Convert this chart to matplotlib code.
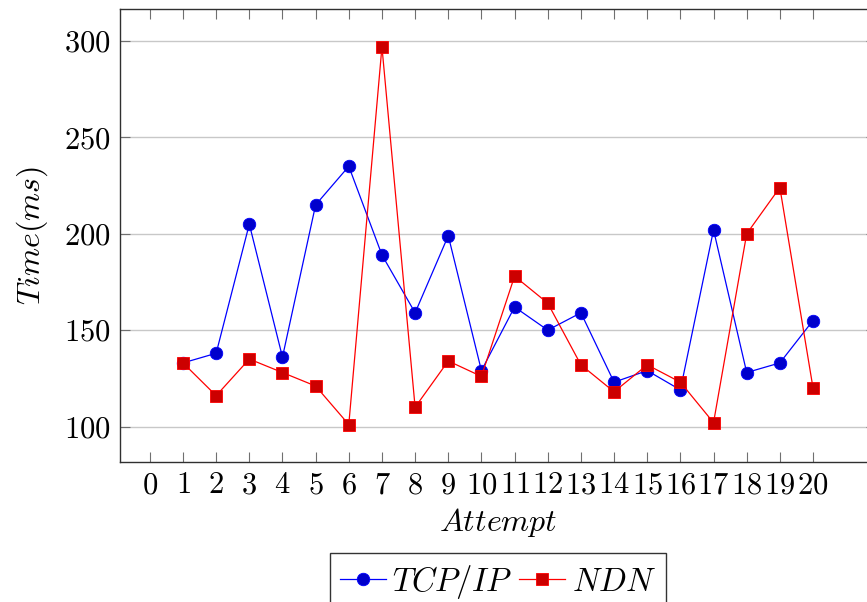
import matplotlib
matplotlib.use('Agg')
import matplotlib.pyplot as plt

# donnees
attempts = list(range(1, 21))
tcp_ip = [133, 138, 205, 136, 215, 235, 189, 159, 199, 129,
          162, 150, 159, 123, 129, 119, 202, 128, 133, 155]
ndn = [133, 116, 135, 128, 121, 101, 297, 110, 134, 126,
       178, 164, 132, 118, 132, 123, 102, 200, 224, 120]
xticks = list(range(0, 21))
yticks = [100, 150, 200, 250, 300]

plt.rcParams['font.family'] = 'cmr10'
plt.rcParams['mathtext.fontset'] = 'cm'
plt.rcParams['axes.formatter.use_mathtext'] = True
fs = 22

fig = plt.figure(figsize=(8.67, 6.02), dpi=100)
ax = fig.add_axes([0.1384, 0.2326, 0.872, 0.7524])

ax.plot(attempts, tcp_ip, color='#0000ff', lw=0.9, marker='o', ms=9,
        mfc='#0000cc', mec='#0000ff', mew=0.6, label=r'$TCP/IP$', zorder=3)
ax.plot(attempts, ndn, color='#ff0000', lw=0.9, marker='s', ms=8.3,
        mfc='#cc0000', mec='#ff0000', mew=0.6, label=r'$NDN$', zorder=3)

ax.set_xlim(-0.9, 21.9)
ax.set_ylim(81.6, 316.6)
ax.set_xticks(xticks)
ax.set_yticks(yticks)
ax.grid(axis='y', color='#c8c8c8', lw=1.0)
ax.set_axisbelow(True)

ax.tick_params(direction='in', length=7, width=0.8, color='#707070',
               top=True, right=True, labelsize=fs, pad=7)
for s in ax.spines.values():
    s.set_color('#303030')
    s.set_linewidth(1.0)

ax.set_xlabel(r'$Attempt$', fontsize=fs + 1, labelpad=5)
ax.set_ylabel(r'$Time(ms)$', fontsize=fs + 1, labelpad=10)

leg = ax.legend(loc='upper center', bbox_to_anchor=(0.5744, 0.0814),
                bbox_transform=fig.transFigure, ncol=2, fontsize=fs + 1.5,
                frameon=True, fancybox=False, edgecolor='black',
                handlelength=1.4, handletextpad=0.2, columnspacing=0.2,
                borderpad=0.3, borderaxespad=0)
leg.get_frame().set_linewidth(1.0)

fig.savefig('out.png', dpi=100)
